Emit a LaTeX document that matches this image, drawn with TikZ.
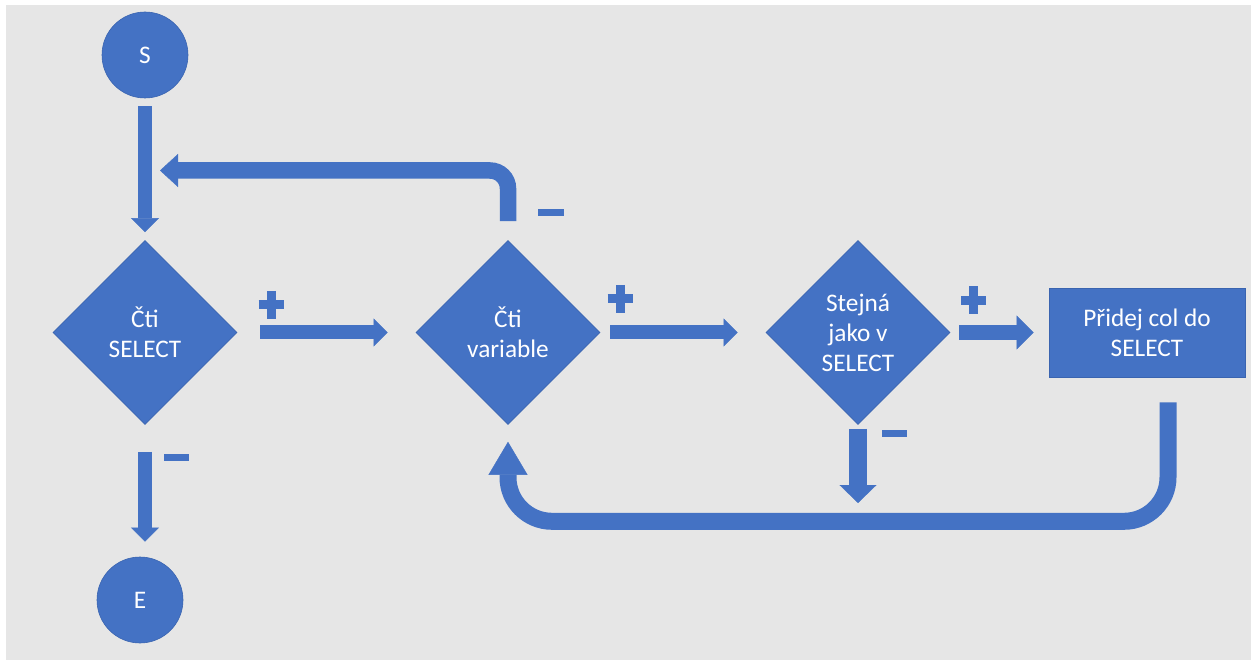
\documentclass[tikz,border=0pt]{standalone}
\usepackage{fontspec}
\setmainfont{Carlito}
\usetikzlibrary{shapes.geometric,arrows.meta}

\definecolor{boxblue}{HTML}{4472C4}
\definecolor{edgeblue}{HTML}{3A64B0}
\definecolor{panel}{HTML}{E6E6E6}

\tikzset{
  shapebase/.style={fill=boxblue, draw=edgeblue, line width=0.6pt, text=white,
    align=center, inner sep=0pt, font=\fontsize{25.3}{30}\selectfont},
  startend/.style={shapebase, circle, minimum size=86pt},
  decision/.style={shapebase, diamond, minimum width=184pt, minimum height=184pt},
  process/.style={shapebase, rectangle, minimum width=196pt, minimum height=89pt},
  flow/.style={draw=boxblue, line width=14pt,
    -{Triangle[width=28pt, length=14pt, line width=0.4pt]}},
  flowwide/.style={draw=boxblue, line width=15pt,
    -{Triangle[width=34pt, length=17pt, line width=0.4pt]}},
  flowdown/.style={draw=boxblue, line width=18pt,
    -{Triangle[width=37pt, length=18pt, line width=0.4pt]}},
  backloop/.style={draw=boxblue, line width=16.5pt, rounded corners=18pt,
    -{Triangle[width=33pt, length=18pt, line width=0.4pt]}},
  returnloop/.style={draw=boxblue, line width=17pt, rounded corners=44pt,
    -{Triangle[width=39pt, length=33pt, line width=0.4pt]}},
  plussign/.style={draw=boxblue, line width=9pt},
  minussign/.style={draw=boxblue, line width=7pt},
}

\begin{document}
\begin{tikzpicture}[x=1pt, y=-1pt]
  % canvas and grey panel
  \fill[white] (0,0) rectangle (1251,660);
  \fill[panel] (6,5) rectangle (1251,660);
  \useasboundingbox (0,0) rectangle (1251,660);

  % flowchart nodes
  \node[startend] (s) at (145,55) {S};
  \node[startend] (e) at (140,600) {E};
  \node[decision] (d1) at (145,332.5) {Čti\\SELECT};
  \node[decision] (d2) at (508,332.5) {Čti\\variable};
  \node[decision] (d3) at (858,332.5) {Stejná\\jako v\\SELECT};
  \node[process] (r) at (1147,332.5) {Přidej col do\\SELECT};

  % free ends of the open connectors
  \coordinate (backin) at (160,170.5);
  \coordinate (skip) at (858,503);

  % straight connectors
  \draw[flow, shorten <=8pt, shorten >=8pt] (s) -- (d1);
  \draw[flow, shorten <=27pt, shorten >=15pt] (d1.south) -- (d1.south |- e.north);
  \draw[flow, shorten <=23pt, shorten >=28pt] (d1) -- (d2);
  \draw[flow, shorten <=10pt, shorten >=28pt] (d2) -- (d3);
  \draw[flowwide, shorten <=9pt, shorten >=15pt] (d3) -- (r);
  \draw[flowdown, shorten <=4pt] (d3.south) -- (skip);

  % loop back from the second decision
  \draw[backloop, shorten <=19pt] (d2.north) |- (backin);

  % return loop from the process box
  \draw[returnloop, shorten <=25pt, shorten >=17pt]
    ([xshift=21pt]r.south) -- ++(0,144) -| (d2.south);

  % plus signs
  \draw[plussign] (258.5,305) -- (283.5,305) (271,291) -- (271,319);
  \draw[plussign] (607.5,299) -- (632.5,299) (620,285) -- (620,313);
  \draw[plussign] (961,300.5) -- (986,300.5) (973.5,286.5) -- (973.5,314.5);

  % minus signs
  \draw[minussign] (538,212.5) -- (564,212.5);
  \draw[minussign] (882,433.5) -- (907,433.5);
  \draw[minussign] (164,457.5) -- (189,457.5);
\end{tikzpicture}
\end{document}
